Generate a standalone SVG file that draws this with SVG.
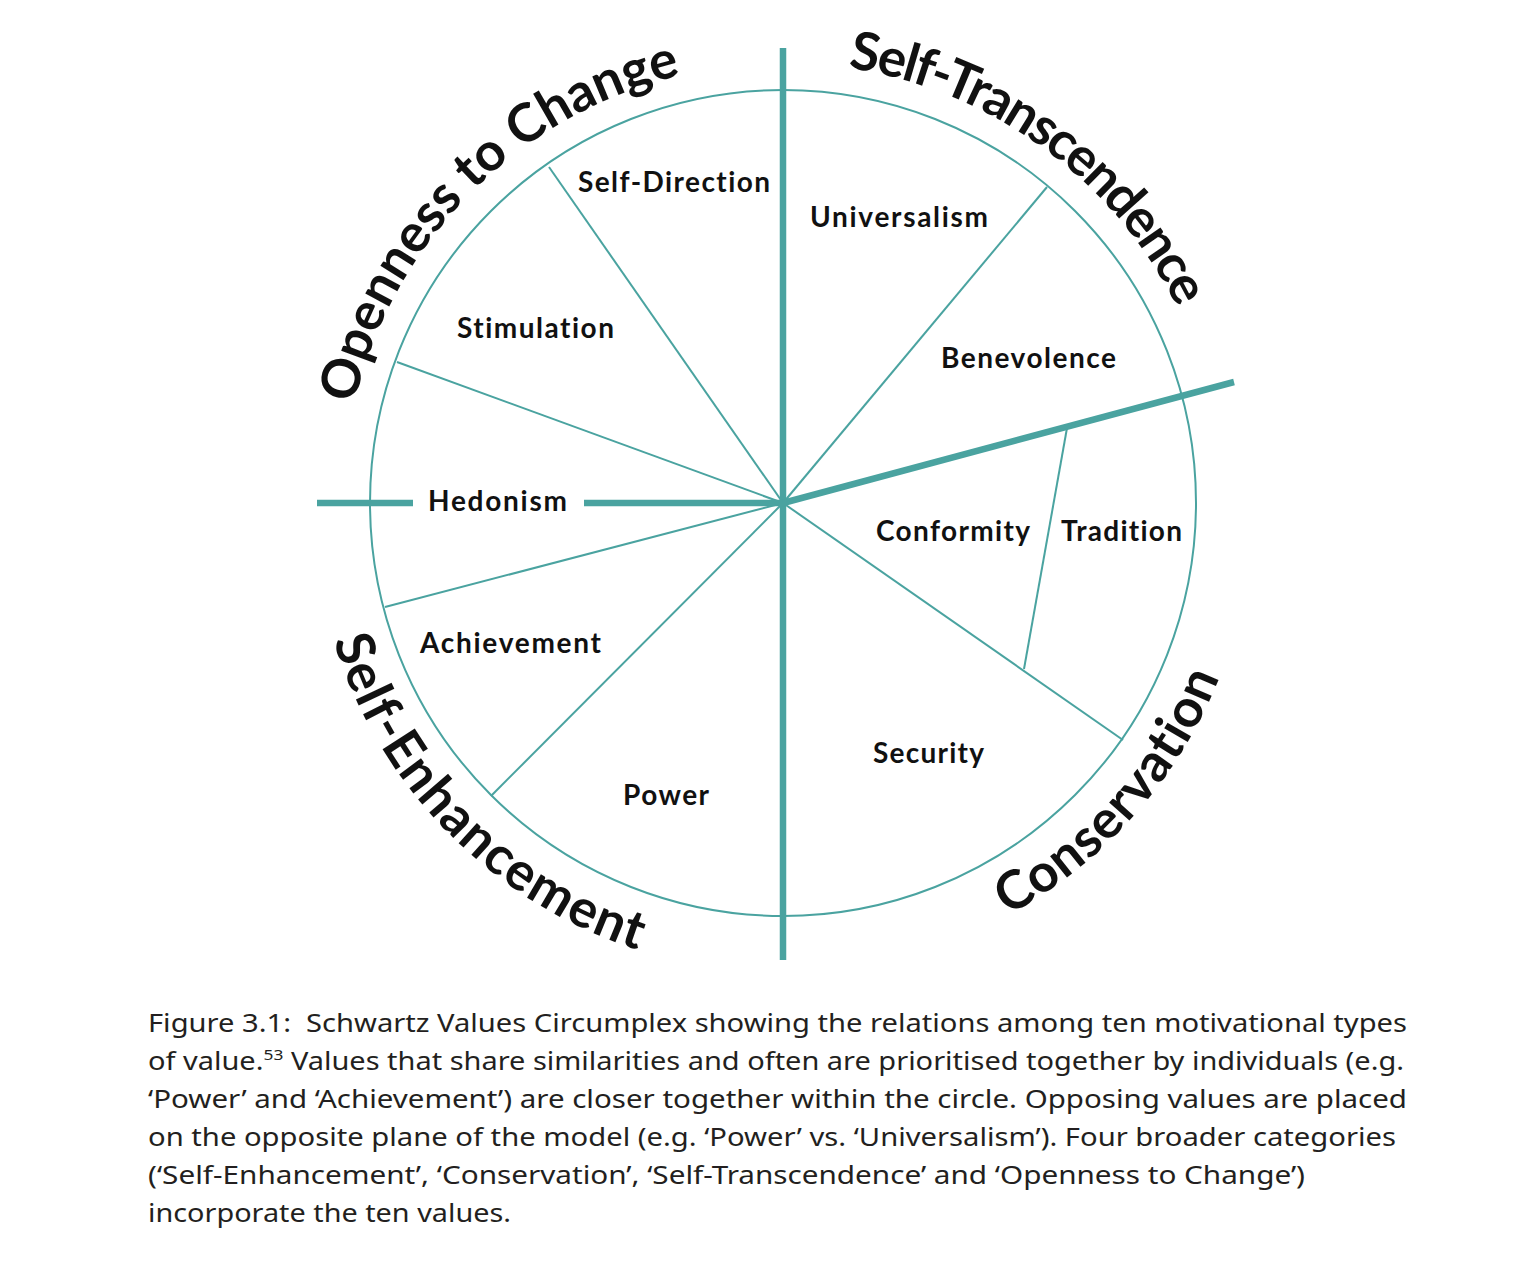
<svg xmlns="http://www.w3.org/2000/svg" width="1528" height="1270" viewBox="0 0 1528 1270">
<style>
  .thin{fill:none;stroke:#4aa3a0;stroke-width:2}
  .thick{fill:none;stroke:#4aa3a0;stroke-width:6.5;stroke-linecap:butt}
  .val{font-family:Lato,"Open Sans",sans-serif;font-weight:700;font-size:28px;fill:#111;font-variant-ligatures:none}
  .cat{font-family:Lato,"Open Sans",sans-serif;font-weight:700;font-size:53px;fill:#111;font-variant-ligatures:none}
  .cap{font-family:"Noto Sans","Open Sans",sans-serif;font-size:25px;fill:#231f20}
</style>
<defs>
  <path id="pOpen" d="M354.3,404 A440,440 0 0 1 684,74.3"/>
  <path id="pTrans" d="M848,67.8 A440,440 0 0 1 1178.5,310.1"/>
  <path id="pCons" d="M1008,915.5 A470,470 0 0 0 1218.8,679.1"/>
  <path id="pEnh" d="M333.5,640.4 A470,470 0 0 0 637.8,950"/>
</defs>
<rect width="1528" height="1270" fill="#fff"/>
<g id="connectors">
  <circle class="thin" cx="783" cy="503" r="413"/>
  <line class="thin" x1="783" y1="503" x2="549" y2="167"/>
  <line class="thin" x1="783" y1="503" x2="397" y2="362"/>
  <line class="thin" x1="783" y1="503" x2="385" y2="607"/>
  <line class="thin" x1="783" y1="503" x2="491" y2="796"/>
  <line class="thin" x1="783" y1="503" x2="1047" y2="187"/>
  <line class="thin" x1="783" y1="503" x2="1123" y2="740"/>
  <line class="thin" x1="1067" y1="428" x2="1024" y2="669"/>
  <line class="thick" x1="783" y1="48" x2="783" y2="960"/>
  <line class="thick" x1="317" y1="503" x2="413" y2="503"/>
  <line class="thick" x1="584" y1="503" x2="783" y2="503"/>
  <line class="thick" x1="783" y1="503" x2="1234" y2="382"/>
</g>
<g id="self-direction"><text class="val" x="578" y="192" textLength="192">Self-Direction</text></g>
<g id="universalism"><text class="val" x="810" y="227" textLength="178">Universalism</text></g>
<g id="stimulation"><text class="val" x="457" y="338" textLength="157">Stimulation</text></g>
<g id="benevolence"><text class="val" x="941" y="368" textLength="175">Benevolence</text></g>
<g id="hedonism"><text class="val" x="428" y="511" textLength="139">Hedonism</text></g>
<g id="conformity"><text class="val" x="876" y="541" textLength="154">Conformity</text></g>
<g id="tradition"><text class="val" x="1061" y="541" textLength="121">Tradition</text></g>
<g id="achievement"><text class="val" x="420" y="653" textLength="181">Achievement</text></g>
<g id="power"><text class="val" x="623" y="805" textLength="86">Power</text></g>
<g id="security"><text class="val" x="873" y="763" textLength="111">Security</text></g>
<g id="openness-to-change"><text class="cat"><textPath href="#pOpen" textLength="488">Openness to Change</textPath></text></g>
<g id="self-transcendence"><text class="cat"><textPath href="#pTrans" textLength="424">Self-Transcendence</textPath></text></g>
<g id="conservation"><text class="cat"><textPath href="#pCons" textLength="325">Conservation</textPath></text></g>
<g id="self-enhancement"><text class="cat"><textPath href="#pEnh" textLength="451">Self-Enhancement</textPath></text></g>
<g id="caption">
  <text class="cap" x="148" y="1032" textLength="1259" lengthAdjust="spacingAndGlyphs">Figure 3.1:&#160; Schwartz Values Circumplex showing the relations among ten motivational types</text>
  <text class="cap" x="148" y="1070" textLength="1256" lengthAdjust="spacingAndGlyphs">of value.<tspan font-size="15" dy="-10">53</tspan><tspan dy="10"> Values that share similarities and often are prioritised together by individuals (e.g.</tspan></text>
  <text class="cap" x="148" y="1108" textLength="1259" lengthAdjust="spacingAndGlyphs">‘Power’ and ‘Achievement’) are closer together within the circle. Opposing values are placed</text>
  <text class="cap" x="148" y="1146" textLength="1248" lengthAdjust="spacingAndGlyphs">on the opposite plane of the model (e.g. ‘Power’ vs. ‘Universalism’). Four broader categories</text>
  <text class="cap" x="148" y="1184" textLength="1157" lengthAdjust="spacingAndGlyphs">(‘Self-Enhancement’, ‘Conservation’, ‘Self-Transcendence’ and ‘Openness to Change’)</text>
  <text class="cap" x="148" y="1222" textLength="363" lengthAdjust="spacingAndGlyphs">incorporate the ten values.</text>
</g>
</svg>
